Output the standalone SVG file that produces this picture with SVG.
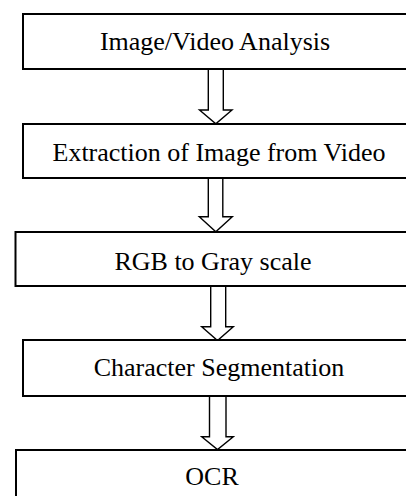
<svg xmlns="http://www.w3.org/2000/svg" width="406" height="496" viewBox="0 0 406 496">
<style>
.box{fill:#fff;stroke:#000;stroke-width:2}
.lbl{font-family:"Liberation Serif","Times New Roman",serif;font-size:26px;fill:#000;text-anchor:middle}
.arr{fill:#fff;stroke:#000;stroke-width:1.4;stroke-linejoin:miter}
</style>
<rect width="406" height="496" fill="#fff"/>
<g id="connectors">
<polygon class="arr" points="208.3,69 223.3,69 223.3,110 232,110 215.8,123.8 199.5,110 208.3,110"/>
<polygon class="arr" points="208.3,178 222.8,178 222.8,216.7 232.3,216.7 215.8,231.8 199.3,216.7 208.3,216.7"/>
<polygon class="arr" points="210.7,286 225.7,286 225.7,326.7 233.3,326.7 217.5,340.5 201.7,326.7 210.7,326.7"/>
<polygon class="arr" points="209.5,396 226,396 226,436.7 233.3,436.7 217.5,449.5 201.7,436.7 209.5,436.7"/>
</g>
<g id="n1"><rect class="box" x="23" y="14" width="400" height="55"/><text class="lbl" x="215" y="49.5">Image/Video Analysis</text></g>
<g id="n2"><rect class="box" x="23" y="124" width="400" height="54"/><text class="lbl" x="219" y="161">Extraction of Image from Video</text></g>
<g id="n3"><rect class="box" x="15.5" y="232" width="400" height="54"/><text class="lbl" x="213" y="270">RGB to Gray scale</text></g>
<g id="n4"><rect class="box" x="23" y="340" width="400" height="56"/><text class="lbl" x="219" y="376">Character Segmentation</text></g>
<g id="n5"><rect class="box" x="16" y="450" width="400" height="60"/><text class="lbl" x="212" y="485">OCR</text></g>
</svg>
